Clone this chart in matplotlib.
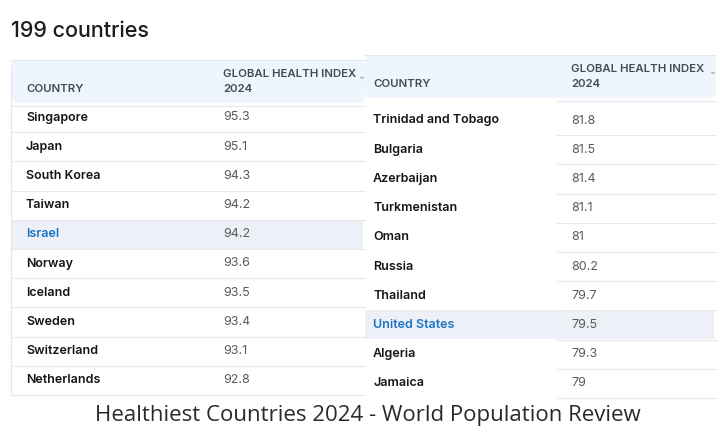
import matplotlib
matplotlib.use("Agg")
import matplotlib.pyplot as plt
from matplotlib.patches import FancyBboxPatch, Rectangle

title = "199 countries"
caption = "Healthiest Countries 2024 - World Population Review"
header_country = "COUNTRY"
header_index = ["GLOBAL HEALTH INDEX", "2024"]

left_countries = ["Singapore", "Japan", "South Korea", "Taiwan", "Israel",
                  "Norway", "Iceland", "Sweden", "Switzerland", "Netherlands"]
left_values = ["95.3", "95.1", "94.3", "94.2", "94.2", "93.6", "93.5", "93.4", "93.1", "92.8"]
right_countries = ["Trinidad and Tobago", "Bulgaria", "Azerbaijan", "Turkmenistan", "Oman",
                   "Russia", "Thailand", "United States", "Algeria", "Jamaica"]
right_values = ["81.8", "81.5", "81.4", "81.1", "81", "80.2", "79.7", "79.5", "79.3", "79"]
highlighted = ["Israel", "United States"]

W, H = 720, 442
fig = plt.figure(figsize=(W / 100, H / 100), dpi=100)
ax = fig.add_axes([0, 0, 1, 1])
ax.set_xlim(0, W)
ax.set_ylim(H, 0)
ax.axis("off")

FONT = "Inter"
HEAD_BG = "#eef5fc"
HL_BG = "#edf0f7"
LINE = "#e6e8ec"
BLUE = "#1f74c4"

ax.text(11, 31, title, fontsize=15.5, fontweight="medium", color="#1c1c1c",
        family=FONT, va="center", ha="left")


def draw_table(x0, x1, y_head_top, y_head_bot, x_name, x_val, y_first, row_h,
               countries, values, line_x0, left_border):
    bg = FancyBboxPatch((x0, y_head_top), x1 - x0, y_head_bot - y_head_top,
                        boxstyle="round,pad=0,rounding_size=6", fc=HEAD_BG, ec="none", zorder=1)
    ax.add_patch(bg)
    ax.plot([x0, x1], [y_head_top, y_head_top], color=LINE, lw=0.8, zorder=2)
    hkw = dict(fontsize=8.2, fontweight="semibold", color="#434a55", family=FONT,
               va="center", ha="left")
    ax.text(x_name, y_head_bot - 14, header_country, **hkw)
    ax.text(x_val, y_head_bot - 29, header_index[0], **hkw)
    ax.text(x_val, y_head_bot - 14, header_index[1], **hkw)
    ax.text(x1 - 3, y_head_bot - 27, "⌄", fontsize=7, color="#8a8f98",
            family="DejaVu Sans", va="center", ha="center")
    if left_border:
        ax.plot([x0, x0], [y_head_top + 6, H - 47], color=LINE, lw=0.8, zorder=2)
    for i, (c, v) in enumerate(zip(countries, values)):
        yc = y_first + i * row_h
        if c in highlighted:
            ax.add_patch(Rectangle((x0, yc - row_h / 2), x1 - 2 - x0, row_h,
                                   fc=HL_BG, ec="none", zorder=1))
        ax.text(x_name, yc, c, fontsize=9, fontweight="semibold",
                color=BLUE if c in highlighted else "#151515",
                family=FONT, va="center", ha="left", zorder=3)
        ax.text(x_val, yc, v, fontsize=9, color="#5a5a5a",
                family=FONT, va="center", ha="left", zorder=3)
        ax.plot([line_x0, x1], [yc + row_h / 2, yc + row_h / 2], color=LINE, lw=0.8, zorder=2)
    ax.plot([line_x0, x1], [y_head_bot + 3, y_head_bot + 3], color=LINE, lw=0.8, zorder=2)


draw_table(11, 365, 60, 103, 26, 223, 117.5, 29.2, left_countries, left_values, 11, True)
draw_table(365, 716, 55, 98, 373, 571, 120.5, 29.2, right_countries, right_values, 557, False)

ax.text(368, 415, caption, fontsize=16.0, color="#2a2a2a", family="Open Sans",
        va="center", ha="center")

fig.savefig("out.png", dpi=100, facecolor="white")
